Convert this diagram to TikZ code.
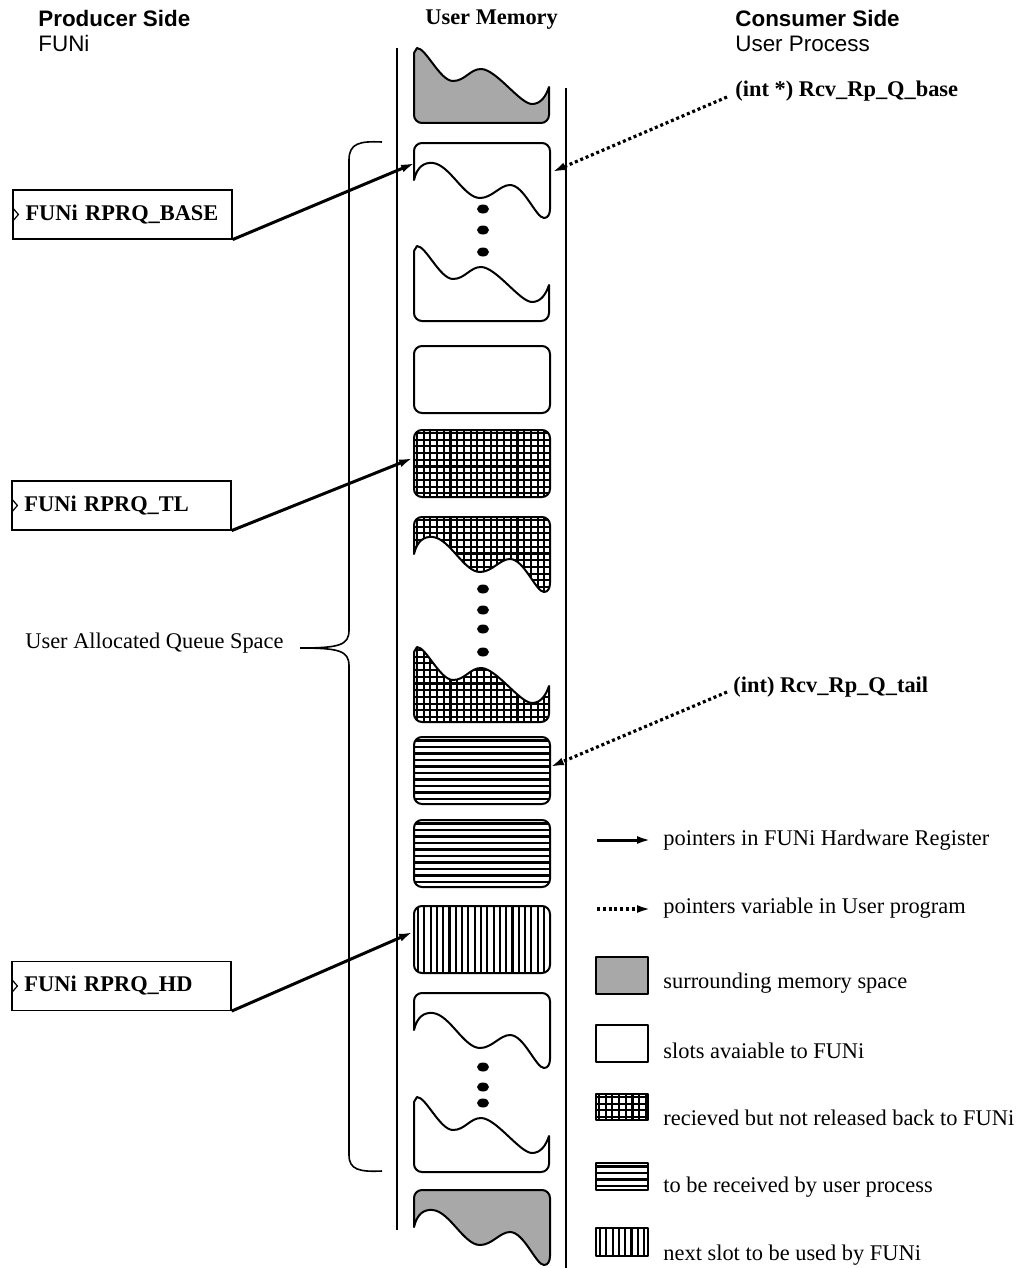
\documentclass[tikz,border=0pt]{standalone}
\usepackage{fontspec}
\setmainfont{Liberation Serif}
\setsansfont{Liberation Sans}
\usepackage{tikz}
\usetikzlibrary{arrows.meta}
\definecolor{inkBlack}{RGB}{0, 0, 0}
\definecolor{memGrey}{RGB}{168, 168, 168}
\newcommand\lblfont{\fontsize{11.2}{13}\selectfont}

% slot outlines (x in px, y relative to the slot top)
\newcommand\fullslot{[rounded corners=4pt] (414,0) rectangle (550,67)}
\newcommand\upperwave{(414,37) .. controls (417,24) and (424,19) .. (433,20) .. controls (450,22) and (464,55) .. (480,55) .. controls (492,55) and (500,42) .. (510,42) .. controls (524,42) and (536,75) .. (544,75) .. controls (548,75) and (550,71) .. (550,66) -- (550,40) [rounded corners=4pt] -- (550,0) -- (414,0) -- (414,20) [sharp corners] -- cycle}
\newcommand\lowerwave{(417,0) .. controls (426,0) and (440,33) .. (453,33) .. controls (465,33) and (470,21) .. (481,21) .. controls (496,21) and (520,56) .. (532,56) .. controls (541,56) and (546,48) .. (549,39) -- (549,50) [rounded corners=4pt] -- (549,75) -- (414,75) -- (414,20) [sharp corners] -- (414,5) -- cycle}

% fills
\newcommand\greyfill{\fill[memGrey] (380,-5) rectangle (660,90);}
\newcommand\gridhatch[1]{%
  \foreach \k in {0,...,22}{\draw[hatchline] ({#1+3+\k*6.7},-3) -- ++(0,90);}
  \foreach \k in {0,...,13}{\draw[hatchline] ({#1-3},{3+\k*6.7}) -- ++(150,0);}}
\newcommand\horizhatch[1]{%
  \foreach \k in {0,...,13}{\draw[hatchline] ({#1-3},{3.5+\k*6.5}) -- ++(150,0);}}
\newcommand\verthatch[1]{%
  \foreach \k in {0,...,22}{\draw[hatchline] ({#1+4+\k*6.3},-3) -- ++(0,90);}}
\newcommand\memslot[3]{%
  \begin{scope}[shift={(0,#1)}]
    \begin{scope}\clip #2; #3\end{scope}
    \draw[slotline] #2;
  \end{scope}}

\tikzset{
  slotline/.style={line width=1pt, line join=round},
  hatchline/.style={line width=1.05pt},
  colline/.style={line width=0.8pt},
  regbox/.style={draw, line width=0.6pt, minimum height=24.5pt, text width=97pt,
    inner xsep=6.25pt, align=left, font=\lblfont\bfseries},
  plain/.style={inner sep=0pt, anchor=base west, font=\lblfont},
  hwptr/.style={line width=1.5pt, -{Latex[length=7pt,width=4pt]}},
  swptr/.style={line width=1.6pt, dash pattern=on 1.5pt off 1.4pt, -{Latex[length=7pt,width=4pt]}},
  dotmark/.style={fill=inkBlack}
}

\begin{document}
\begin{tikzpicture}[x=0.5pt,y=-0.5pt]
\useasboundingbox (0,0) rectangle (1017,1268);

% headers
\node[plain, font=\lblfont\sffamily\bfseries] (prodhd) at (38,27) {Producer Side};
\node[plain, font=\lblfont\sffamily] (prodsub) at (38,52) {FUNi};
\node[plain, font=\lblfont\bfseries] (memhd) at (425,25) {User Memory};
\node[plain, font=\lblfont\sffamily\bfseries] (conshd) at (735,27) {Consumer Side};
\node[plain, font=\lblfont\sffamily] (conssub) at (735,52) {User Process};

% memory column
\draw[colline] (397,48) -- (397,1230);
\draw[colline] (566,88) -- (566,1268);

% slots, top to bottom
\memslot{48}{\lowerwave}{\greyfill}
\memslot{143}{\upperwave}{}
\memslot{246}{\lowerwave}{}
\memslot{346}{\fullslot}{}
\memslot{430}{\fullslot}{\gridhatch{414}}
\memslot{517}{\upperwave}{\gridhatch{414}}
\memslot{647}{\lowerwave}{\gridhatch{414}}
\memslot{737}{\fullslot}{\horizhatch{414}}
\memslot{820}{\fullslot}{\horizhatch{414}}
\memslot{906}{\fullslot}{\verthatch{414}}
\memslot{993}{\upperwave}{}
\memslot{1097}{\lowerwave}{}
\memslot{1190}{\upperwave}{\greyfill}

\foreach \dy in {209,230,252,589,610,629,652,1067,1087,1103}
  \fill[dotmark] (483,\dy) ellipse [x radius=6, y radius=4.5];

% queue space brace
\draw[colline] (382,142) .. controls (360,141) and (349,143) .. (349,160) -- (349,630)
  .. controls (349,645) and (340,648) .. (300,648)
  .. controls (340,648) and (349,651) .. (349,666) -- (349,1155)
  .. controls (349,1170) and (360,1172) .. (382,1171);
\node[plain] (qspace) at (25,648) {User Allocated Queue Space};

% hardware registers
\node[regbox] (rbase) at (122.5,214.5) {FUNi RPRQ\_BASE};
\node[regbox] (rtl) at (121.5,505.5) {FUNi RPRQ\_TL};
\node[regbox] (rhd) at (121.5,986) {FUNi RPRQ\_HD};
\foreach \r in {rbase,rtl,rhd}
  \draw[line width=0.6pt] ([yshift=3.5pt]\r.west) -- ++(3pt,-3.5pt) -- ++(-3pt,-3.5pt);

\coordinate (baseIn) at (415,163);
\coordinate (tlIn) at (413,458);
\coordinate (hdIn) at (413,932);
\draw[hwptr] (rbase.south east) -- (baseIn);
\draw[hwptr] (rtl.south east) -- (tlIn);
\draw[hwptr] (rhd.south east) -- (hdIn);

% user program variables
\node[plain, font=\lblfont\bfseries] (qbase) at (735,97) {(int *) Rcv\_Rp\_Q\_base};
\node[plain, font=\lblfont\bfseries] (qtail) at (733,692) {(int) Rcv\_Rp\_Q\_tail};
\coordinate (baseOut) at (552,172);
\coordinate (tailOut) at (550,767);
\draw[swptr] ([xshift=-4pt]qbase.base west) -- (baseOut);
\draw[swptr] ([xshift=-3pt]qtail.base west) -- (tailOut);

% legend
\coordinate (hwA) at (597,840);
\coordinate (hwB) at (651,840);
\coordinate (swA) at (597,909);
\coordinate (swB) at (651,909);
\draw[hwptr] (hwA) -- (hwB);
\draw[swptr] (swA) -- (swB);
\node[plain] (lghw) at (663,845) {pointers in FUNi Hardware Register};
\node[plain] (lgsw) at (663,913) {pointers variable in User program};

\begin{scope}\clip (596,957) rectangle (648,994); \fill[memGrey] (590,950) rectangle (655,1000); \end{scope}
\draw[slotline] (596,957) rectangle (648,994);
\draw[slotline] (596,1025) rectangle (648,1062);
\begin{scope}[shift={(0,1094)}]
  \begin{scope}\clip (596,0) rectangle (648,26); \gridhatch{596}\end{scope}
  \draw[slotline] (596,0) rectangle (648,26);
\end{scope}
\begin{scope}[shift={(0,1163)}]
  \begin{scope}\clip (596,0) rectangle (648,27); \horizhatch{596}\end{scope}
  \draw[slotline] (596,0) rectangle (648,27);
\end{scope}
\begin{scope}[shift={(0,1228)}]
  \begin{scope}\clip (596,0) rectangle (648,28); \verthatch{596}\end{scope}
  \draw[slotline] (596,0) rectangle (648,28);
\end{scope}

\node[plain] (lggrey) at (663,988) {surrounding memory space};
\node[plain] (lgfree) at (663,1058) {slots avaiable to FUNi};
\node[plain] (lgheld) at (663,1125) {recieved but not released back to FUNi};
\node[plain] (lgnew) at (663,1192) {to be received by user process};
\node[plain] (lgnext) at (663,1260) {next slot to be used by FUNi};
\end{tikzpicture}
\end{document}
